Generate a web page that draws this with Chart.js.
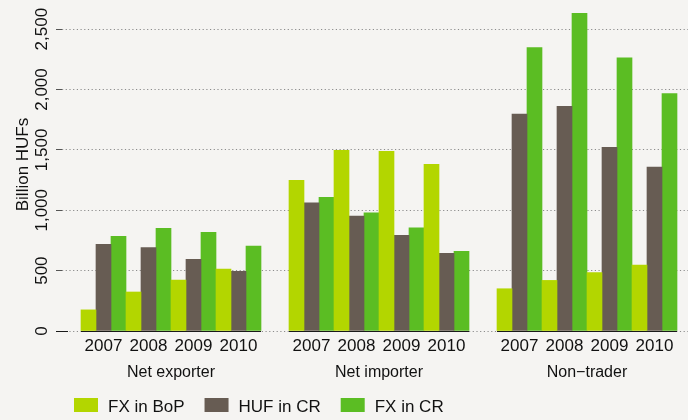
<!DOCTYPE html>
<html>
<head>
<meta charset="utf-8">
<script src="https://cdn.jsdelivr.net/npm/chart.js@4/dist/chart.umd.min.js"></script>
<style>
  html, body { margin: 0; padding: 0; background: #f5f4f2; }
  #wrap { width: 688px; height: 420px; }
</style>
</head>
<body>
<div id="wrap"><canvas id="c" width="688" height="420"></canvas></div>
<script>
// ---- data ----
const GROUPS = ['Net exporter', 'Net importer', 'Non\u2212trader'];
const YEARS = ['2007', '2008', '2009', '2010'];
const SERIES_NAMES = ['FX in BoP', 'HUF in CR', 'FX in CR'];
const FX_IN_BOP = [175, 323, 422, 513, 1247, 1496, 1487, 1380, 350, 419, 483, 546];
const HUF_IN_CR = [718, 690, 593, 494, 1062, 952, 792, 643, 1796, 1860, 1520, 1358];
const FX_IN_CR = [784, 850, 817, 704, 1107, 979, 855, 660, 2348, 2630, 2263, 1967];
const Y_TICKS = [0, 500, 1000, 1500, 2000, 2500];

// ---- style ----
const COLORS = ['#b3d600', '#675c53', '#5bbd23'];
const GAP = 28 / 45;           // space between groups, in cluster widths
const FONT = '"Liberation Sans", Arial, Helvetica, sans-serif';
const BG = '#f5f4f2';

function pos(g, y) { return g * (YEARS.length + GAP) + y; }
function toPoints(values) {
  const pts = [];
  GROUPS.forEach((_, g) => YEARS.forEach((_, y) => pts.push({ x: pos(g, y), y: values[g * YEARS.length + y] })));
  return pts;
}

const labelPlugin = {
  id: 'labels',
  beforeDraw(chart) {
    const ctx = chart.ctx;
    ctx.save();
    ctx.fillStyle = BG;
    ctx.fillRect(0, 0, chart.width, chart.height);
    ctx.restore();
  },
  afterDatasetsDraw(chart) {
    const ctx = chart.ctx, xs = chart.scales.x, ys = chart.scales.y;
    ctx.save();
    // solid axis segments under each group
    ctx.strokeStyle = '#1a1a1a';
    ctx.lineWidth = 1;
    const y0 = Math.round(ys.getPixelForValue(0)) + 0.5;
    GROUPS.forEach((_, g) => {
      ctx.beginPath();
      ctx.moveTo(xs.getPixelForValue(pos(g, -0.5)), y0);
      ctx.lineTo(xs.getPixelForValue(pos(g, YEARS.length - 0.5)), y0);
      ctx.stroke();
    });
    ctx.beginPath();
    ctx.moveTo(56, y0); ctx.lineTo(68, y0); ctx.stroke();

    ctx.fillStyle = '#111';
    // y tick labels (rotated)
    ctx.font = '17px ' + FONT;
    ctx.textAlign = 'center';
    ctx.textBaseline = 'alphabetic';
    ys.ticks.forEach(t => {
      ctx.save();
      ctx.translate(47, ys.getPixelForValue(t.value));
      ctx.rotate(-Math.PI / 2);
      ctx.fillText(t.value.toLocaleString('en-US'), 0, 0);
      ctx.restore();
    });
    // y title
    ctx.save();
    ctx.translate(28, 164.5);
    ctx.rotate(-Math.PI / 2);
    ctx.fillText('Billion HUFs', 0, 0);
    ctx.restore();
    // year labels
    ctx.font = '17px ' + FONT;
    GROUPS.forEach((_, g) => YEARS.forEach((yr, y) => {
      ctx.fillText(yr, xs.getPixelForValue(pos(g, y)), 351);
    }));
    // group labels
    ctx.font = '16px ' + FONT;
    GROUPS.forEach((name, g) => {
      ctx.fillText(name, xs.getPixelForValue(pos(g, (YEARS.length - 1) / 2)), 376.5);
    });
    // legend
    ctx.font = '17px ' + FONT;
    ctx.textAlign = 'left';
    let lx = 74;
    chart.data.datasets.forEach(ds => {
      ctx.fillStyle = ds.backgroundColor;
      ctx.fillRect(lx, 398, 24, 14);
      lx += 24 + 10;
      ctx.fillStyle = '#111';
      ctx.fillText(ds.label, lx, 412);
      lx += ctx.measureText(ds.label).width + 20;
    });
    ctx.restore();
  }
};

const xMin = -0.5 - 19 / 45;
const xMax = xMin + 626 / 45;

new Chart(document.getElementById('c'), {
  type: 'bar',
  data: {
    datasets: [
      { label: SERIES_NAMES[0], data: toPoints(FX_IN_BOP), backgroundColor: COLORS[0] },
      { label: SERIES_NAMES[1], data: toPoints(HUF_IN_CR), backgroundColor: COLORS[1] },
      { label: SERIES_NAMES[2], data: toPoints(FX_IN_CR), backgroundColor: COLORS[2] }
    ]
  },
  options: {
    responsive: false,
    animation: false,
    events: [],
    layout: { padding: { left: 56, right: 0, top: 11, bottom: 89 } },
    datasets: { bar: { categoryPercentage: 1, barPercentage: 1, borderWidth: 0 } },
    plugins: { legend: { display: false }, tooltip: { enabled: false }, title: { display: false } },
    scales: {
      x: { type: 'linear', display: false, min: xMin, max: xMax, offset: false },
      y: {
        min: 0, max: 2650,
        afterBuildTicks(scale) { scale.ticks = Y_TICKS.map(v => ({ value: v })); },
        ticks: { display: false },
        border: { display: false, dash: [1.2, 2.5] },
        grid: { color: '#8c8c8c', lineWidth: 1, tickLength: 6, tickColor: '#555', drawTicks: true }
      }
    }
  },
  plugins: [labelPlugin]
});
</script>
</body>
</html>
